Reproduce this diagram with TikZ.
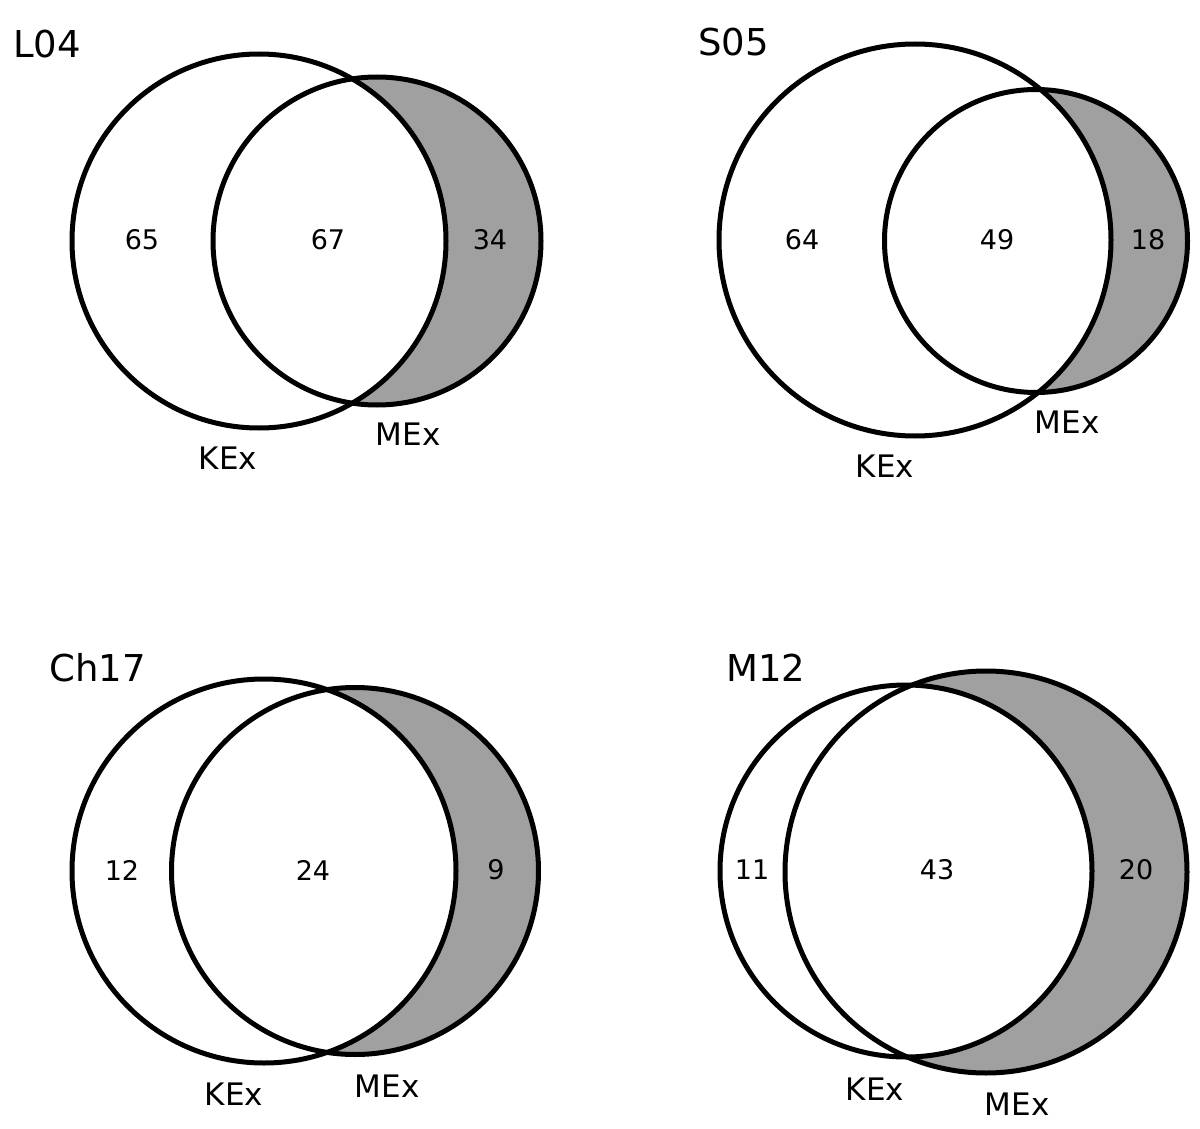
\documentclass[tikz,border=0pt]{standalone}
\usepackage{fontspec}
\setmainfont{DejaVu Sans}
\definecolor{venngray}{RGB}{160,160,160}
\tikzset{
  ring/.style={draw=black, line width=5pt},
  numtxt/.style={inner sep=0pt, font=\fontsize{27}{32}\selectfont},
  settxt/.style={inner sep=0pt, font=\fontsize{31}{36}\selectfont},
  titletxt/.style={inner sep=0pt, font=\fontsize{37}{42}\selectfont},
}
\begin{document}
\begin{tikzpicture}[x=1pt,y=-1pt]
\useasboundingbox (0,0) rectangle (1200,1129);
\fill[white] (0,0) rectangle (1200,1129);

% ---------- L04 ----------
\fill[venngray] (377,241) circle (164);
\fill[white] (259,241) circle (187);
\draw[ring] (259,241) circle (187);
\draw[ring] (377,241) circle (164);
\node[titletxt, anchor=west] (tL) at (13,44) {L04};
\node[numtxt] (nL1) at (142,240) {65};
\node[numtxt] (nL2) at (328,240) {67};
\node[numtxt] (nL3) at (490,240) {34};
\node[settxt] (kL) at (228,458) {KEx};
\node[settxt] (mL) at (408,434) {MEx};

% ---------- S05 ----------
\fill[venngray] (1036,241) circle (151.5);
\fill[white] (915,240) circle (196);
\draw[ring] (915,240) circle (196);
\draw[ring] (1036,241) circle (151.5);
\node[titletxt, anchor=west] (tS) at (698,42) {S05};
\node[numtxt] (nS1) at (802,240) {64};
\node[numtxt] (nS2) at (997,240) {49};
\node[numtxt] (nS3) at (1148,240) {18};
\node[settxt] (kS) at (885,466) {KEx};
\node[settxt] (mS) at (1067,422) {MEx};

% ---------- Ch17 ----------
\fill[venngray] (355,871) circle (183.5);
\fill[white] (264,871) circle (192);
\draw[ring] (264,871) circle (192);
\draw[ring] (355,871) circle (183.5);
\node[titletxt, anchor=west] (tC) at (49,668) {Ch17};
\node[numtxt] (nC1) at (122,870) {12};
\node[numtxt] (nC2) at (313,870) {24};
\node[numtxt] (nC3) at (496,870) {9};
\node[settxt] (kC) at (234,1094) {KEx};
\node[settxt] (mC) at (387,1086) {MEx};

% ---------- M12 ----------
\fill[venngray] (986,872) circle (201);
\fill[white] (906,871) circle (186);
\draw[ring] (906,871) circle (186);
\draw[ring] (986,872) circle (201);
\node[titletxt, anchor=west] (tM) at (726,668) {M12};
\node[numtxt] (nM1) at (752,870) {11};
\node[numtxt] (nM2) at (937,870) {43};
\node[numtxt] (nM3) at (1136,870) {20};
\node[settxt] (kM) at (875,1089) {KEx};
\node[settxt] (mM) at (1017,1104) {MEx};
\end{tikzpicture}
\end{document}
